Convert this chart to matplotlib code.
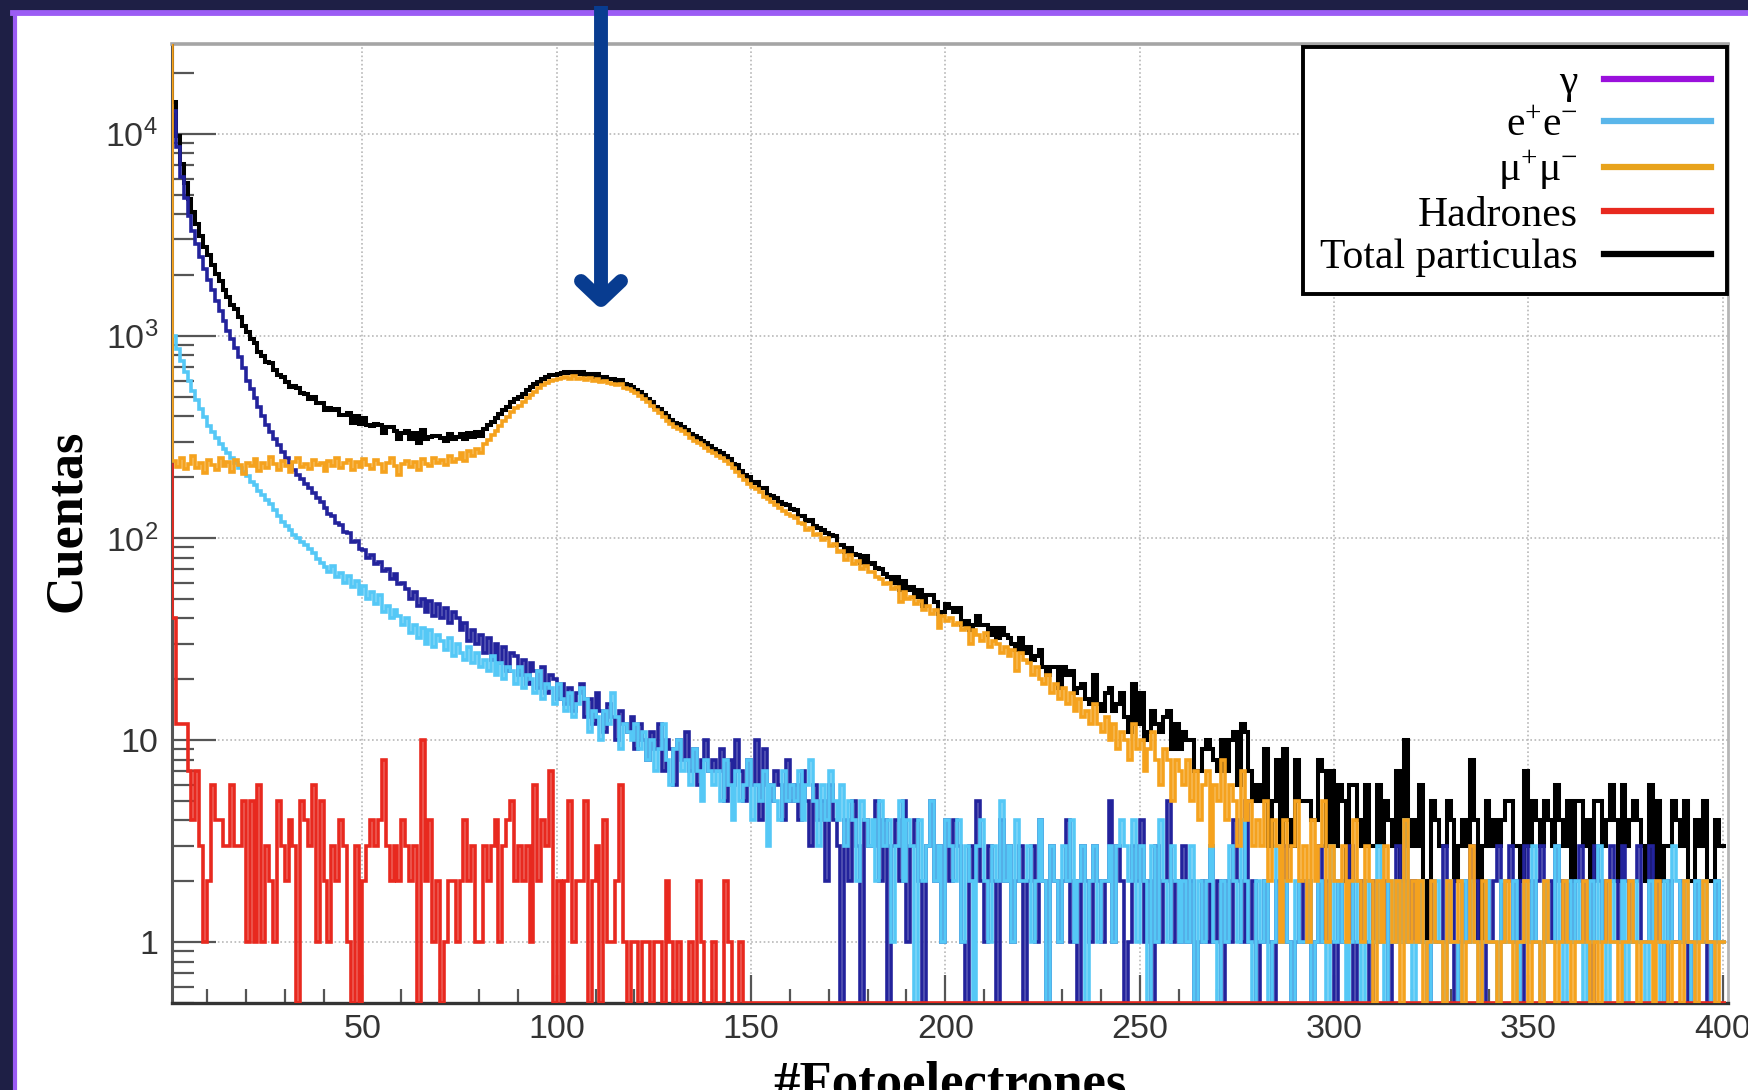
import numpy as np
import matplotlib
matplotlib.use("Agg")
import matplotlib.pyplot as plt
from matplotlib.lines import Line2D
from matplotlib.patches import Rectangle
from matplotlib.ticker import FixedLocator, FuncFormatter, LogLocator, MultipleLocator, NullFormatter

plt.rcParams['mathtext.fontset'] = 'custom'
plt.rcParams['mathtext.rm'] = 'Liberation Serif'
plt.rcParams['mathtext.sf'] = 'Liberation Sans'
plt.rcParams['mathtext.it'] = 'Liberation Serif:italic'
plt.rcParams['mathtext.bf'] = 'Liberation Serif:bold'

# ---------------- data (counts per photo-electron bin, bins [1,2) ... [400,401)) ----------------
x_first, x_last = 1, 401

gamma = [
    13000, 8600, 6100, 4800, 3900, 3300, 2850, 2450, 2150, 1900, 1680, 1490, 1330, 1190, 1060, 960, 870, 785, 690, 600,
    545, 490, 445, 400, 362, 335, 308, 287, 266, 248, 232, 218, 206, 196, 184, 176, 167, 158, 150, 141,
    131, 128, 118, 116, 107, 106, 96, 97, 88, 87, 80, 82, 74, 76, 69, 70, 63, 66, 59, 60,
    56, 50, 54, 46, 50, 43, 49, 41, 47, 40, 45, 38, 43, 40, 35, 38, 31, 35, 30, 33,
    27, 32, 25, 30, 24, 29, 22, 27, 26, 21, 25, 19, 24, 22, 18, 23, 17, 21, 20, 16,
    19, 15, 18, 14, 17, 19, 13, 16, 12, 17, 14, 11, 15, 13, 10, 14, 12, 11, 13, 9,
    12, 10, 8, 11, 9, 12, 7, 10, 9, 6, 10, 8, 11, 7, 9, 6, 8, 10, 7, 8,
    7, 9, 5, 8, 6, 10, 7, 5, 8, 6, 10, 4, 9, 6, 5, 7, 6, 4, 8, 5,
    6, 4, 7, 5, 3, 6, 4, 5, 2, 6, 4, 3, 0, 4, 2, 5, 3, 0, 4, 3,
    3, 5, 2, 4, 0, 3, 4, 2, 5, 1, 3, 4, 2, 0, 3, 5, 2, 3, 1, 4,
    2, 4, 3, 1, 0, 3, 2, 5, 2, 1, 3, 2, 0, 4, 2, 3, 1, 2, 3, 0,
    2, 3, 1, 4, 2, 0, 3, 2, 1, 2, 4, 1, 2, 0, 3, 2, 1, 3, 2, 1,
    2, 5, 1, 3, 2, 0, 1, 3, 2, 4, 1, 2, 0, 3, 1, 2, 5, 1, 2, 1,
    3, 1, 2, 0, 1, 2, 1, 3, 1, 2, 0, 2, 1, 4, 2, 1, 5, 1, 2, 0,
    1, 2, 1, 0, 2, 1, 3, 1, 0, 1, 2, 1, 2, 0, 1, 3, 1, 2, 1, 0,
    2, 1, 1, 3, 0, 1, 2, 1, 0, 2, 1, 1, 2, 0, 1, 3, 1, 2, 1, 2,
    1, 2, 1, 0, 2, 1, 1, 3, 1, 2, 0, 1, 2, 1, 3, 2, 1, 0, 2, 1,
    2, 3, 1, 2, 3, 1, 2, 0, 3, 2, 1, 2, 3, 1, 2, 1, 3, 2, 1, 2,
    1, 2, 3, 1, 2, 0, 3, 2, 1, 2, 3, 2, 1, 3, 2, 1, 2, 3, 1, 1,
    3, 1, 2, 1, 0, 2, 1, 1, 2, 1, 0, 1, 2, 1, 1, 0, 1, 2, 1, 1,
]

electrons = [
    1000, 860, 750, 665, 595, 535, 480, 435, 395, 360, 335, 312, 292, 276, 263, 250, 236, 223, 212, 202,
    190, 182, 170, 163, 154, 148, 137, 128, 120, 115, 110, 104, 100, 96, 92, 88, 84, 79, 75, 72,
    68, 73, 64, 67, 60, 65, 57, 61, 53, 58, 50, 54, 47, 52, 43, 46, 40, 44, 41, 37,
    40, 34, 37, 32, 36, 30, 35, 29, 33, 31, 28, 32, 26, 30, 27, 25, 29, 24, 27, 23,
    25, 22, 26, 21, 24, 20, 23, 22, 19, 23, 18, 21, 20, 17, 22, 16, 19, 18, 15, 19,
    16, 14, 17, 13, 15, 18, 16, 11, 14, 13, 10, 14, 12, 17, 13, 9, 12, 11, 10, 12,
    9, 11, 8, 10, 7, 9, 12, 8, 6, 9, 10, 7, 8, 6, 9, 7, 5, 8, 7, 6,
    7, 5, 8, 6, 4, 7, 5, 6, 8, 4, 6, 5, 7, 3, 6, 5, 4, 7, 5, 6,
    5, 7, 4, 6, 8, 5, 3, 6, 4, 7, 5, 4, 6, 3, 5, 4, 2, 5, 4, 3,
    4, 2, 5, 3, 4, 1, 3, 5, 2, 4, 3, 0, 4, 2, 3, 5, 2, 3, 1, 4,
    3, 2, 4, 1, 3, 2, 0, 3, 4, 2, 1, 3, 2, 5, 2, 3, 1, 4, 2, 2,
    3, 1, 2, 4, 2, 0, 3, 2, 1, 3, 2, 4, 1, 2, 3, 0, 2, 3, 1, 2,
    2, 3, 1, 3, 4, 3, 2, 4, 1, 3, 2, 0, 3, 1, 4, 2, 1, 3, 2, 1,
    2, 1, 3, 0, 2, 1, 2, 3, 1, 0, 2, 1, 3, 2, 1, 4, 2, 1, 0, 2,
    1, 2, 0, 1, 3, 1, 2, 1, 0, 2, 1, 1, 2, 0, 1, 2, 1, 0, 3, 1,
    2, 1, 0, 1, 2, 1, 0, 2, 1, 1, 3, 1, 0, 2, 1, 2, 1, 4, 1, 0,
    1, 2, 1, 0, 1, 2, 1, 0, 2, 1, 1, 0, 2, 1, 2, 1, 0, 1, 2, 1,
    1, 0, 2, 1, 1, 2, 0, 1, 2, 1, 3, 1, 0, 2, 1, 1, 3, 1, 0, 2,
    1, 2, 1, 0, 1, 2, 1, 3, 1, 0, 2, 1, 1, 2, 0, 1, 2, 1, 1, 0,
    2, 1, 1, 0, 2, 1, 3, 2, 1, 2, 1, 0, 2, 1, 2, 1, 0, 2, 1, 1,
]

muons = [
    240, 225, 248, 219, 232, 255, 221, 236, 210, 244, 229, 217, 250, 226, 238, 213, 242, 230, 208, 236,
    228, 246, 215, 235, 222, 252, 231, 218, 240, 226, 211, 237, 248, 224, 233, 219, 243, 229, 236, 214,
    239, 227, 250, 221, 234, 242, 216, 238, 225, 247, 230, 220, 244, 232, 212, 236, 249, 226, 205, 231,
    240, 224, 237, 218, 245, 233, 228, 250, 236, 243, 229, 254, 238, 246, 262, 241, 268, 255, 275, 262,
    290, 305, 322, 338, 360, 378, 395, 418, 440, 452, 470, 495, 512, 530, 552, 568, 585, 596, 605, 612,
    620, 628, 615, 632, 610, 622, 605, 618, 598, 612, 590, 600, 585, 580, 568, 575, 552, 548, 535, 520,
    505, 488, 470, 452, 430, 415, 398, 380, 368, 355, 345, 338, 325, 312, 303, 296, 288, 278, 270, 262,
    255, 248, 240, 232, 222, 212, 202, 194, 185, 178, 174, 168, 160, 155, 150, 146, 140, 136, 132, 128,
    126, 118, 117, 110, 112, 103, 105, 98, 100, 91, 93, 85, 86, 78, 82, 74, 77, 70, 73, 68,
    68, 64, 63, 59, 60, 56, 57, 48, 54, 50, 51, 47, 49, 44, 46, 42, 44, 36, 41, 39,
    40, 37, 38, 35, 36, 30, 35, 33, 31, 34, 29, 31, 30, 27, 29, 26, 28, 22, 27, 25,
    24, 21, 23, 20, 19, 21, 17, 19, 16, 18, 15, 17, 14, 16, 13, 14, 12, 15, 12, 11,
    13, 10, 12, 9, 11, 10, 8, 12, 9, 10, 7, 9, 11, 8, 6, 9, 8, 5, 8, 7,
    6, 8, 5, 7, 4, 6, 7, 3, 6, 5, 8, 4, 6, 5, 3, 7, 4, 5, 3, 4,
    3, 5, 2, 4, 3, 1, 4, 2, 3, 5, 2, 3, 1, 4, 2, 3, 5, 1, 3, 2,
    2, 3, 1, 2, 4, 2, 1, 3, 2, 0, 2, 1, 3, 2, 1, 2, 0, 4, 1, 2,
    1, 2, 0, 1, 2, 1, 1, 0, 2, 1, 1, 2, 0, 1, 3, 1, 0, 2, 1, 1,
    1, 0, 1, 2, 1, 0, 1, 1, 2, 0, 1, 1, 0, 2, 1, 1, 0, 1, 2, 1,
    0, 1, 1, 2, 1, 0, 1, 0, 1, 2, 1, 1, 0, 1, 1, 2, 1, 0, 1, 1,
    1, 0, 2, 1, 1, 0, 1, 1, 0, 2, 1, 1, 0, 1, 2, 1, 1, 0, 1, 1,
]

hadrons = [
    40, 12, 12, 12, 7, 4, 7, 3, 1, 2, 6, 4, 4, 3, 3, 6, 3, 3, 5, 1,
    5, 1, 6, 1, 3, 2, 1, 5, 3, 2, 4, 3, 0, 5, 4, 3, 6, 1, 5, 2,
    1, 3, 2, 4, 3, 1, 0, 3, 0, 2, 3, 4, 3, 4, 8, 3, 2, 3, 2, 4,
    3, 2, 3, 0, 10, 2, 4, 1, 2, 0, 1, 2, 2, 1, 2, 4, 2, 3, 1, 1,
    3, 2, 3, 4, 1, 3, 4, 5, 2, 3, 2, 3, 1, 6, 2, 4, 3, 7, 0, 2,
    0, 2, 5, 1, 2, 2, 5, 0, 2, 3, 0, 4, 1, 1, 2, 6, 1, 0, 1, 1,
    0, 1, 1, 0, 1, 1, 0, 2, 1, 0, 1, 0, 0, 1, 0, 2, 1, 0, 0, 1,
    0, 0, 2, 1, 0, 0, 1, 0, 0, 0, 0, 0, 0, 0, 0, 0, 0, 0, 0, 0,
] + [0] * 240

# counts just below x = 1 (outside the visible range; only their edge at x = 1 shows)
underflow = {"gamma": 13000, "electrons": 1000, "muons": 50000, "hadrons": 230}

legend_labels = ["γ", r"$\mathrm{e^{+}e^{-}}$", r"$\mathrm{\mu^{+}\mu^{-}}$", "Hadrones", "Total particulas"]
x_ticks = [50, 100, 150, 200, 250, 300, 350, 400]
y_ticks = [1, 10, 100, 1000, 10000]

for arr in (gamma, electrons, muons, hadrons):
    assert len(arr) == 400, len(arr)

# ---------------- figure ----------------
W, H = 1748, 1090
fig = plt.figure(figsize=(W / 100, H / 100), dpi=100)
fig.patch.set_facecolor('#1e1f45')

def fx(px):
    return px / W

def fy(py):
    return 1 - py / H

fig.add_artist(Rectangle((fx(16), 0), 1 - fx(16), fy(15), transform=fig.transFigure,
                         facecolor='white', edgecolor='none', zorder=-5))
fig.add_artist(Line2D([fx(13), 1], [fy(13), fy(13)], lw=4.2, color='#9b5cf4', zorder=-4,
                      transform=fig.transFigure))
fig.add_artist(Line2D([fx(15), fx(15)], [0, fy(13)], lw=3.0, color='#9b5cf4', zorder=-4,
                      transform=fig.transFigure))

ax = fig.add_axes([fx(172), fy(1003), fx(1728) - fx(172), fy(44) - fy(1003)])
ax.set_facecolor('white')
ax.set_yscale('log')
y_bottom, y_top = 0.5, 2.78e4
ax.set_xlim(x_first, 401.4)
ax.set_ylim(y_bottom, y_top)

edges = np.arange(x_first - 1, x_last + 1)
series = {
    "gamma": np.array([underflow["gamma"]] + gamma, dtype=float),
    "electrons": np.array([underflow["electrons"]] + electrons, dtype=float),
    "muons": np.array([underflow["muons"]] + muons, dtype=float),
    "hadrons": np.array([underflow["hadrons"]] + hadrons, dtype=float),
}
total = series["gamma"] + series["electrons"] + series["muons"] + series["hadrons"]

colors = {"total": "#000000", "gamma": "#23239c", "electrons": "#55c8f6",
          "muons": "#f5a21e", "hadrons": "#e8291f"}
lw = 2.6

def show(v):
    # empty bins are drawn on the frame bottom, as ROOT does
    return np.maximum(v, y_bottom)

ax.stairs(show(total), edges, baseline=None, color=colors["total"], lw=lw + 0.3, zorder=3)
ax.stairs(show(series["gamma"]), edges, baseline=None, color=colors["gamma"], lw=lw, zorder=3.1)
ax.stairs(show(series["electrons"]), edges, baseline=None, color=colors["electrons"], lw=lw, zorder=3.2)
ax.stairs(show(series["hadrons"]), edges, baseline=None, color=colors["hadrons"], lw=lw, zorder=3.3)
ax.stairs(show(series["muons"]), edges, baseline=None, color=colors["muons"], lw=lw, zorder=3.4)

# ticks
ax.xaxis.set_major_locator(FixedLocator(x_ticks))
ax.xaxis.set_minor_locator(MultipleLocator(10))
ax.yaxis.set_major_locator(FixedLocator(y_ticks))
ax.yaxis.set_minor_locator(LogLocator(base=10, subs=np.arange(2, 10), numticks=30))
ax.yaxis.set_minor_formatter(NullFormatter())

def yfmt(v, pos):
    if v == 1:
        return "1"
    if v == 10:
        return "10"
    return r"$\mathsf{10^{%d}}$" % int(round(np.log10(v)))

ax.yaxis.set_major_formatter(FuncFormatter(yfmt))
tick_col = '#555555'
ax.tick_params(axis='x', which='major', direction='in', length=20, width=1.6, color=tick_col,
               labelsize=24.5, labelcolor='#333333', pad=8)
ax.tick_params(axis='x', which='minor', direction='in', length=10, width=1.6, color=tick_col)
ax.tick_params(axis='y', which='major', direction='in', length=32, width=1.6, color=tick_col,
               labelsize=24.5, labelcolor='#333333', pad=10)
ax.tick_params(axis='y', which='minor', direction='in', length=16, width=1.6, color=tick_col)
for lab in ax.get_xticklabels() + ax.get_yticklabels():
    lab.set_family('Liberation Sans')

ax.grid(True, which='major', color='#b8b8b8', linestyle=(0, (1, 1.5)), linewidth=1.2)
ax.set_axisbelow(True)

ax.spines['top'].set_color('#a5a5a5')
ax.spines['top'].set_linewidth(2.6)
ax.spines['right'].set_color('#b5b5b5')
ax.spines['right'].set_linewidth(2.0)
ax.spines['bottom'].set_color('#333333')
ax.spines['bottom'].set_linewidth(2.4)
ax.spines['left'].set_color('#555555')
ax.spines['left'].set_linewidth(2.2)

ax.set_xlabel('#Fotoelectrones', fontsize=38, fontweight='bold', family='Liberation Serif', va='top')
ax.xaxis.set_label_coords(0.5, (1003 - 1060) / 959)
ax.set_ylabel('Cuentas', fontsize=37.5, fontweight='bold', family='Liberation Serif', va='center')
ax.yaxis.set_label_coords((67 - 172) / 1556, 0.5 + (523.5 - 521) / 959)

# legend
legend_colors = ["#9a10dc", "#5ab6ea", "#e8a31c", "#e8291f", "#000000"]
handles = [Line2D([], [], color=c, lw=4.5) for c in legend_colors]
leg = ax.legend(handles, legend_labels, loc='upper right', bbox_to_anchor=(0.9995, (1003 - 47) / 959),
                borderaxespad=0, markerfirst=False, frameon=True, fancybox=False, edgecolor='black',
                framealpha=1, prop={'family': 'Liberation Serif', 'size': 30},
                handlelength=2.55, handletextpad=0.64, borderpad=0.40, labelspacing=0.10)
leg.get_frame().set_linewidth(2.8)
leg.set_zorder(10)

# arrow pointing at the muon peak
arrow_col = '#083c90'
fig.add_artist(Line2D([fx(601), fx(601)], [fy(6), fy(298)], lw=10, color=arrow_col,
                      solid_capstyle='butt', zorder=20, transform=fig.transFigure))
fig.add_artist(Line2D([fx(581), fx(601), fx(621)], [fy(281), fy(300), fy(281)], lw=10,
                      color=arrow_col, solid_capstyle='round', solid_joinstyle='round',
                      zorder=20, transform=fig.transFigure))

fig.savefig('out.png', dpi=100, facecolor=fig.get_facecolor())
